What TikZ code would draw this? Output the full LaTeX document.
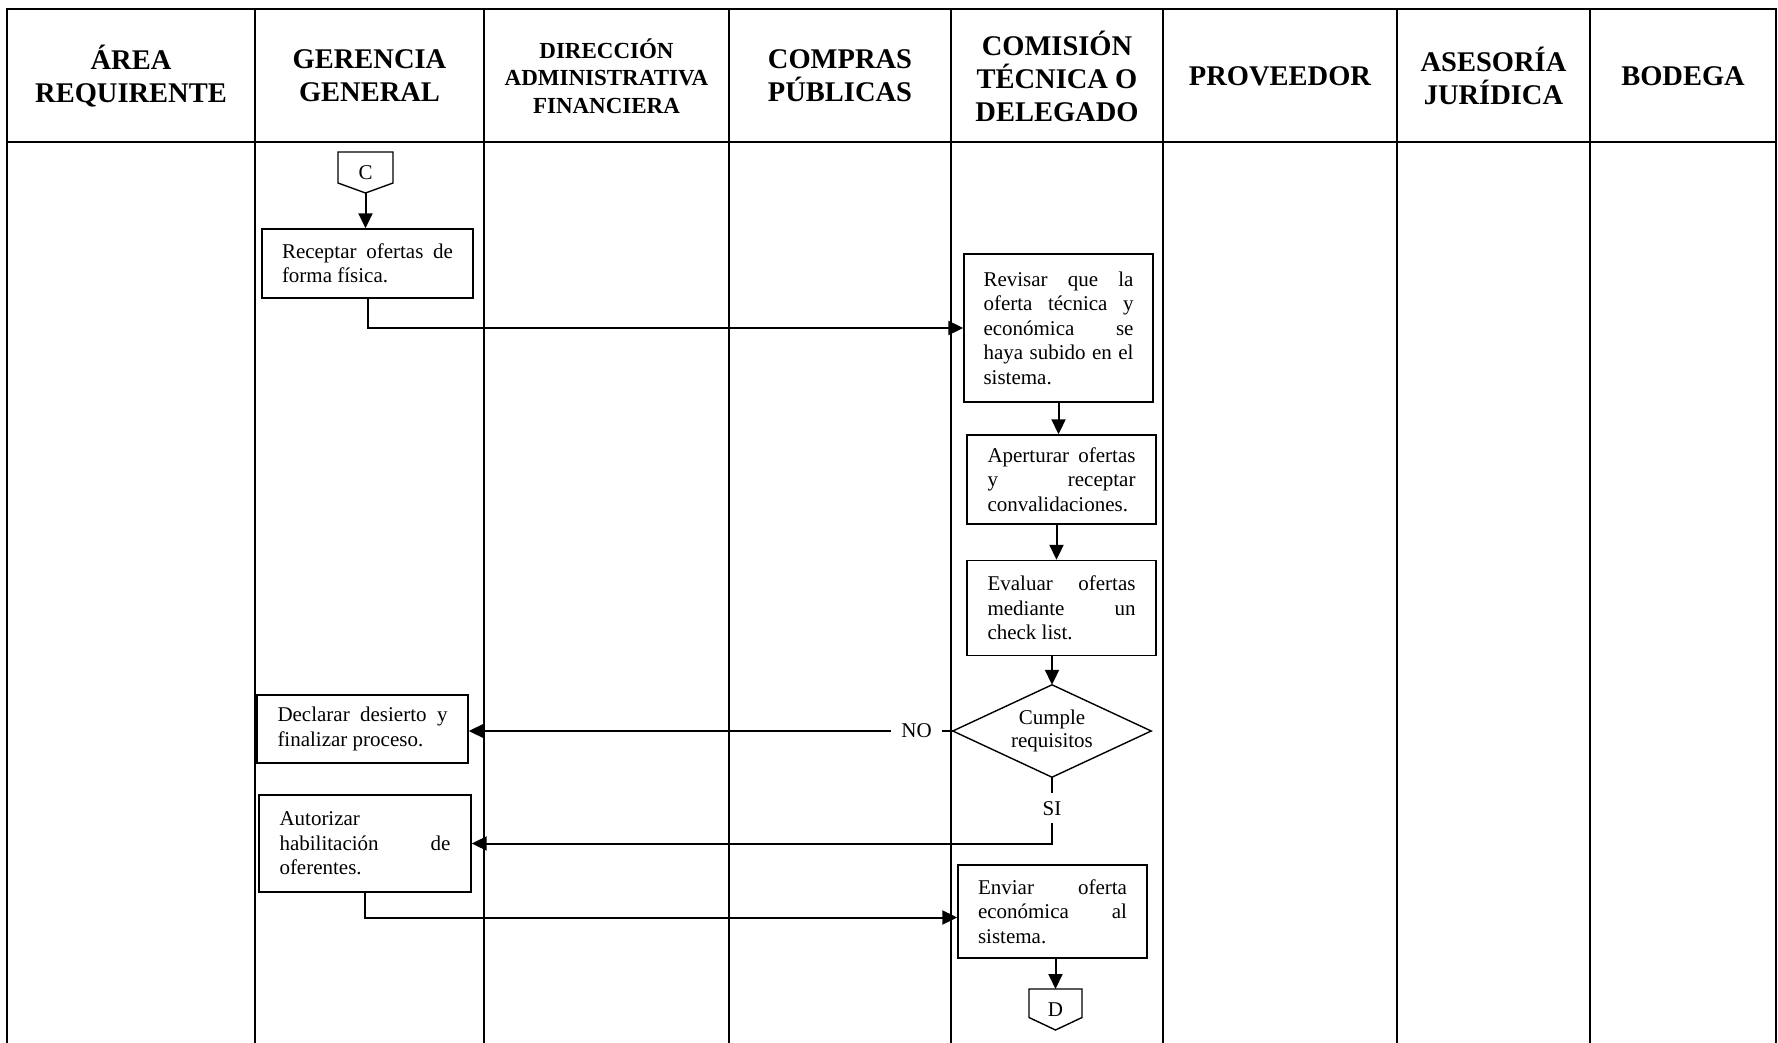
\documentclass[tikz,border=0pt]{standalone}
\usepackage{fontspec}
\setmainfont{Liberation Serif}
\usetikzlibrary{arrows.meta,calc}
% one justified line of a given width
\newcommand\jline[2]{\makebox[#1][s]{#2}}

\begin{document}
\begin{tikzpicture}[x=1pt,y=-1pt,
  lane/.style={line width=2.6pt, line cap=rect},
  hdr/.style={font=\bfseries\fontsize{28.5}{33}\selectfont, align=center},
  hdrsmall/.style={font=\bfseries\fontsize{23}{27.5}\selectfont, align=center},
  task/.style={draw, line width=1.4pt, align=left, inner sep=0pt,
               font=\fontsize{21}{24.5}\selectfont},
  flow/.style={line width=2pt},
  arr/.style={flow, -{Triangle[length=15pt,width=14pt]}},
  lbl/.style={fill=white, font=\fontsize{21}{24}\selectfont},
  conn/.style={font=\fontsize{21}{24}\selectfont, inner sep=0pt},
  shapeline/.style={line width=1.4pt},
]
\useasboundingbox (0,0) rectangle (1778,1043);

% swimlane frame
\draw[lane] (7,9) -- (1776,9);
\draw[lane] (7,142) -- (1776,142);
\foreach \x in {7,255,484,729,951,1163,1397,1590,1776}
  \draw[lane] (\x,9) -- (\x,1043);

% lane headers
\node[hdr] (h1) at (131,76) {ÁREA\\REQUIRENTE};
\node[hdr] (h2) at (369.5,76) {GERENCIA\\GENERAL};
\node[hdrsmall] (h3) at (606.5,76) {DIRECCIÓN\\ADMINISTRATIVA\\FINANCIERA};
\node[hdr] (h4) at (840,76) {COMPRAS\\PÚBLICAS};
\node[hdr] (h5) at (1057,76) {COMISIÓN\\TÉCNICA O\\DELEGADO};
\node[hdr] (h6) at (1280,76) {PROVEEDOR};
\node[hdr] (h7) at (1493.5,76) {ASESORÍA\\JURÍDICA};
\node[hdr] (h8) at (1683,76) {BODEGA};

% off-page connector C
\node[conn] (C) at (365.5,172.5) {C};
\draw[shapeline] ($(C.center)+(-27.5,-20.5)$) -- ($(C.center)+(27.5,-20.5)$)
  -- ($(C.center)+(27.5,10.5)$) -- ($(C.center)+(0,20.5)$) coordinate (Ct)
  -- ($(C.center)+(-27.5,10.5)$) -- cycle;

% process steps
\node[task, minimum width=211pt, minimum height=69pt] (rec) at (367.5,263.5)
  {\jline{171pt}{Receptar ofertas de}\\forma física.};
\node[task, minimum width=189pt, minimum height=148pt] (rev) at (1058.5,328)
  {\jline{150pt}{Revisar que la}\\\jline{150pt}{oferta técnica y}\\
   \jline{150pt}{económica se}\\\jline{150pt}{haya subido en el}\\sistema.};
\node[task, minimum width=189pt, minimum height=89pt] (ape) at (1061.5,479.5)
  {\jline{148pt}{Aperturar ofertas}\\\jline{148pt}{y receptar}\\convalidaciones.};
\node[task, minimum width=189pt, minimum height=95pt] (eva) at (1061.5,608)
  {\jline{148pt}{Evaluar ofertas}\\\jline{148pt}{mediante un}\\check list.};
\node[align=center, font=\fontsize{21}{22.5}\selectfont,
      minimum width=198pt, minimum height=92pt, inner sep=0pt] (dia) at (1052,731)
  {Cumple\\requisitos};
\draw[shapeline] (dia.north) -- (dia.east) -- (dia.south) -- (dia.west) -- cycle;
\node[task, minimum width=211pt, minimum height=68pt] (dec) at (362.5,729)
  {\jline{170pt}{Declarar desierto y}\\finalizar proceso.};
\node[task, minimum width=212pt, minimum height=97pt] (aut) at (365,843.5)
  {Autorizar\\\jline{171pt}{habilitación de}\\oferentes.};
\node[task, minimum width=189pt, minimum height=93pt] (env) at (1052.5,911.5)
  {\jline{149pt}{Enviar oferta}\\\jline{149pt}{económica al}\\sistema.};

% off-page connector D
\node[conn] (D) at (1055.5,1010) {D};
\coordinate (Dt) at ($(D.center)+(0,-21)$);
\draw[shapeline] ($(D.center)+(-26.5,-21)$) -- ($(D.center)+(26.5,-21)$)
  -- ($(D.center)+(26.5,7.5)$) -- ($(D.center)+(0,20)$)
  -- ($(D.center)+(-26.5,7.5)$) -- cycle;

% connectors
\draw[arr] (Ct) -- (Ct |- rec.north);
\draw[arr] (rec.south) |- (rev.west);
\draw[arr] (rev.south) -- (rev.south |- ape.north);
\draw[arr] ($(ape.south)+(-5,0)$) -- ($(ape.north |- eva.north)+(-5,0)$);
\draw[arr] (dia.north |- eva.south) -- (dia.north);
\draw[arr] (dia.west) -- node[lbl, pos=0.075, inner xsep=10pt, inner ysep=2pt] {NO}
  (dia.west -| dec.east);
\draw[arr] (dia.south) -- node[lbl, pos=0.47, inner xsep=2pt, inner ysep=8pt] {SI}
  (dia.south |- aut.east) -- (aut.east);
\draw[arr] (aut.south) |- ($(env.west)+(0,6)$);
\draw[arr] (Dt |- env.south) -- (Dt);
\end{tikzpicture}
\end{document}
